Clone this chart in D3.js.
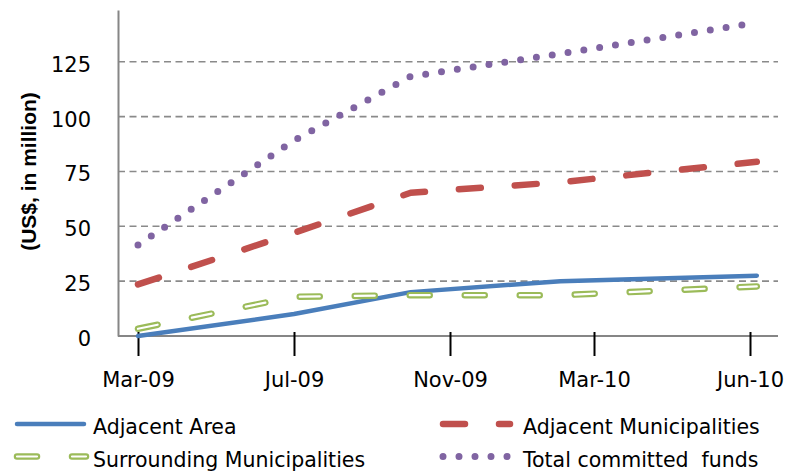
<!DOCTYPE html>
<html>
<head>
<meta charset="utf-8">
<script src="https://cdn.jsdelivr.net/npm/d3@7"></script>
<style>
    html, body { margin: 0; padding: 0; background: #fff; }
    svg { display: block; }
    .tick-label { font-family: "DejaVu Sans", sans-serif; font-size: 21px; fill: #000; }
    .legend-label { font-family: "DejaVu Sans", sans-serif; font-size: 20.5px; fill: #000; }
</style>
</head>
<body>
<div id="chart"></div>
<script>
    // reporting dates
    const dates = ["2009-03-01", "2009-07-01", "2009-10-01", "2010-02-01", "2010-06-05"];
    const adjacentArea = [0, 10, 20, 25, 27.5];
    const adjacentMunicipalities = [23.5, 47, 65.3, 70.1, 79.4];
    const surroundingMunicipalities = [3.3, 17.9, 18.6, 18.6, 22.6];
    const totalCommitted = [41.5, 89.1, 118.3, 128.7, 142.8];

    const xTickDates = ["2009-03-01", "2009-07-01", "2009-11-01", "2010-03-01", "2010-06-01"];
    const yTicks = [0, 25, 50, 75, 100, 125];
    const seriesNames = ["Adjacent Area", "Adjacent Municipalities", "Surrounding Municipalities", "Total committed  funds"];

    const width = 795, height = 473;
    const parse = d3.timeParse("%Y-%m-%d");
    const fmt = d3.timeFormat("%b-%y");

    const svg = d3.select("#chart").append("svg")
        .attr("width", width)
        .attr("height", height);

    // date axis in the source is not evenly spaced, so map tick dates piecewise
    const x = d3.scaleTime()
        .domain(xTickDates.map(parse))
        .range([138, 294, 450, 594, 750]);
    const y = d3.scaleLinear()
        .domain([0, 148.6])
        .range([336, 10]);
    const plotLeft = 118, plotRight = 778;

    // dashed gridlines
    svg.append("g")
        .selectAll("line")
        .data(yTicks.filter(d => d > 0))
        .join("line")
        .attr("x1", plotLeft)
        .attr("x2", plotRight)
        .attr("y1", d => y(d))
        .attr("y2", d => y(d))
        .attr("stroke", "#8a8a8a")
        .attr("stroke-width", 1.6)
        .attr("stroke-dasharray", "7,4.5");

    // y axis
    const yAxis = svg.append("g")
        .attr("transform", `translate(${plotLeft},0)`)
        .call(d3.axisLeft(y).tickValues(yTicks).tickSize(0).tickPadding(27));
    yAxis.select(".domain").attr("stroke", "#868686").attr("stroke-width", 2);
    yAxis.selectAll("text").attr("class", "tick-label").attr("dy", "0.45em");

    // x axis
    const xAxis = svg.append("g")
        .attr("transform", `translate(0,${y(0)})`)
        .call(d3.axisBottom(x).tickValues(xTickDates.map(parse)).tickFormat(fmt).tickSize(20).tickPadding(16));
    xAxis.select(".domain")
        .attr("d", `M${plotLeft},0H${plotRight}`)
        .attr("stroke", "#868686")
        .attr("stroke-width", 2);
    xAxis.selectAll(".tick line")
        .attr("y1", -4)
        .attr("stroke", "#000")
        .attr("stroke-width", 2);
    xAxis.selectAll("text").attr("class", "tick-label");

    // y title
    svg.append("text")
        .attr("transform", "translate(36,171.5) rotate(-90)")
        .attr("text-anchor", "middle")
        .style("font-family", "'Liberation Sans', Arial, sans-serif")
        .style("font-weight", "bold")
        .style("font-size", "21px")
        .text("(US$, in million)");

    const line = d3.line()
        .x(d => x(d[0]))
        .y(d => y(d[1]));
    const pts = vals => dates.map((d, i) => [parse(d), vals[i]]);

    const styles = [
        { values: adjacentArea, color: "#4a7ebb", width: 4.5, dash: null },
        { values: adjacentMunicipalities, color: "#c0504d", width: 6.5, dash: "22,34" },
        { values: surroundingMunicipalities, color: "#9bbb59", width: 6.5, dash: "20,35", hollow: true },
        { values: totalCommitted, color: "#8064a2", width: 7, dash: "0,16" }
    ];

    function drawStroke(sel, s) {
        sel.attr("fill", "none")
            .attr("stroke", s.color)
            .attr("stroke-width", s.width)
            .attr("stroke-linecap", "round")
            .attr("stroke-linejoin", "round")
            .attr("stroke-dasharray", s.dash);
        if (s.hollow) {
            // inner white stroke gives the outlined dash look
            const inner = d3.select(sel.node().parentNode).append(() => sel.node().cloneNode());
            inner.attr("stroke", "#fff").attr("stroke-width", 2.2);
        }
    }

    const seriesG = svg.append("g");
    styles.forEach(s => {
        const g = seriesG.append("g");
        drawStroke(g.append("path").attr("d", line(pts(s.values))), s);
    });

    // legend, two columns x two rows
    const legendPos = [
        { x1: 17, x2: 84, y: 424, tx: 93, ty: 434 },
        { x1: 443, x2: 510, y: 424, tx: 523, ty: 434 },
        { x1: 17, x2: 86, y: 456.5, tx: 93, ty: 466.5 },
        { x1: 443, x2: 510, y: 456.5, tx: 523, ty: 466.5 }
    ];
    const legend = svg.append("g");
    seriesNames.forEach((name, i) => {
        const p = legendPos[i];
        const g = legend.append("g");
        drawStroke(g.append("line")
            .attr("x1", p.x1).attr("x2", p.x2)
            .attr("y1", p.y).attr("y2", p.y), styles[i]);
        g.append("text")
            .attr("class", "legend-label")
            .attr("x", p.tx)
            .attr("y", p.ty)
            .attr("xml:space", "preserve")
            .style("white-space", "pre")
            .text(name);
    });
</script>
</body>
</html>
